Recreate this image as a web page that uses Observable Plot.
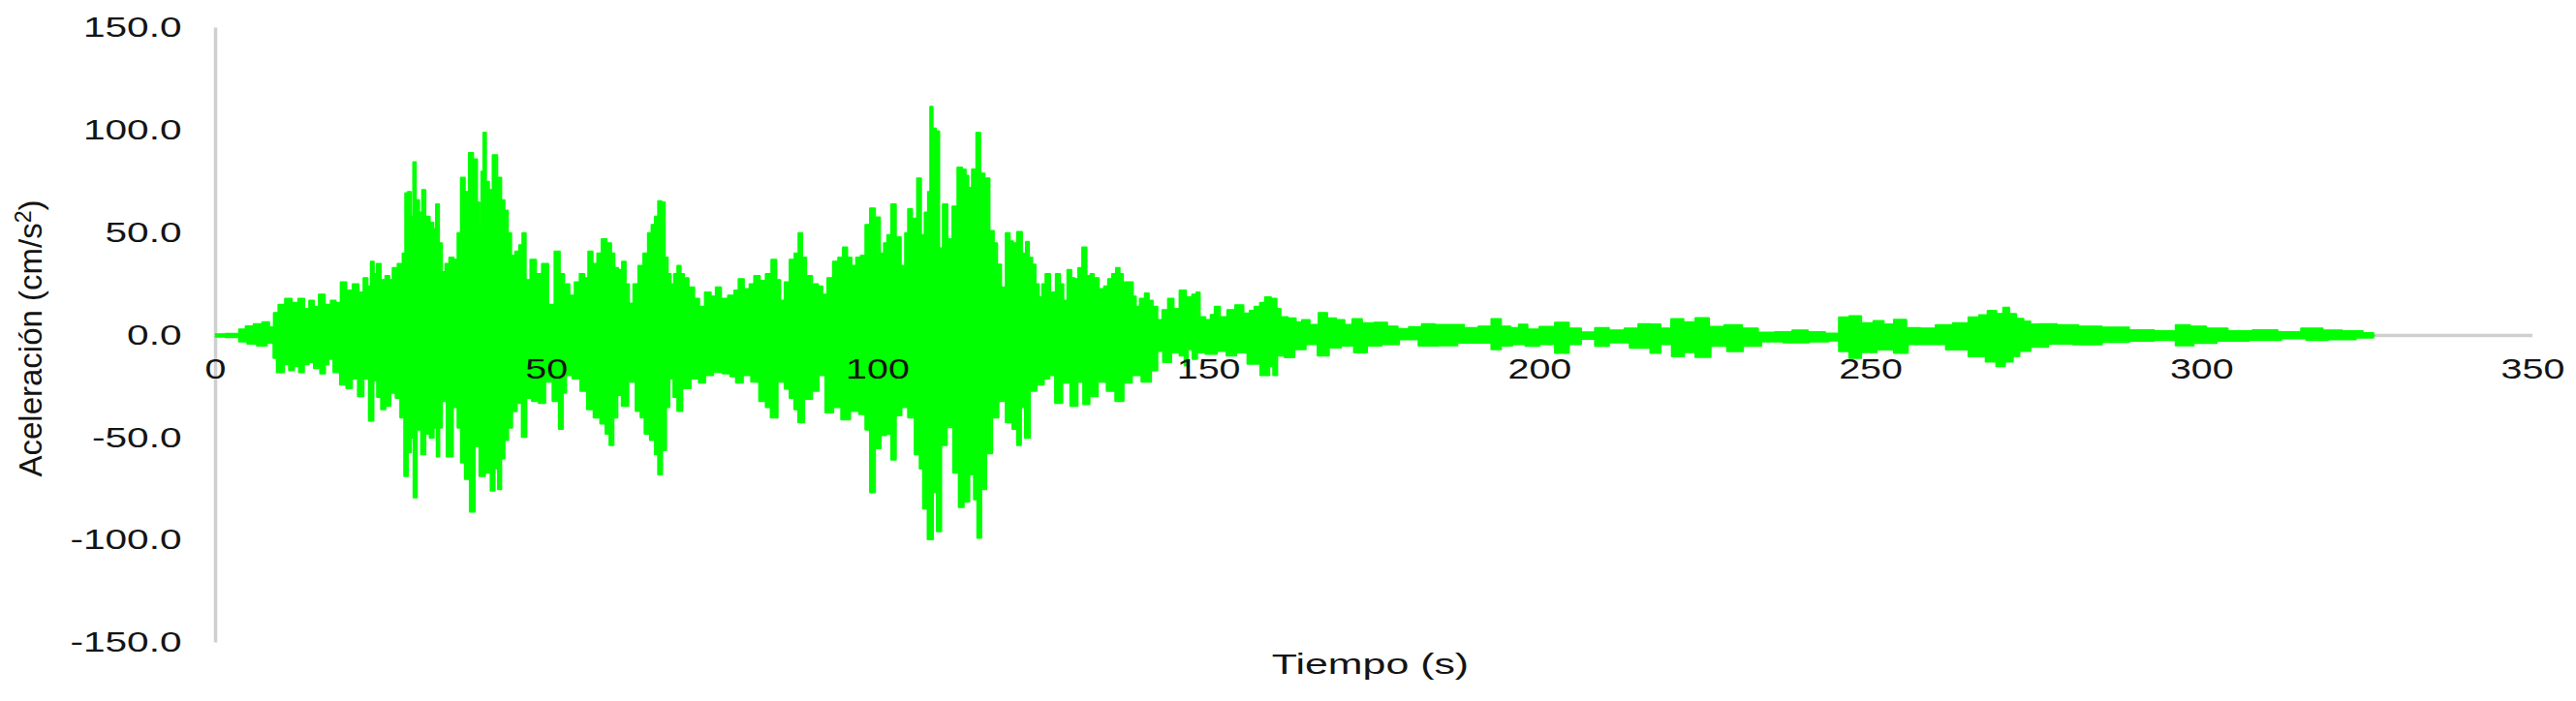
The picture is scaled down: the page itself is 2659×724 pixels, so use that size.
<!DOCTYPE html>
<html>
<head>
<meta charset="utf-8">
<script src="https://cdn.jsdelivr.net/npm/d3@7"></script>
<script src="https://cdn.jsdelivr.net/npm/@observablehq/plot@0.6"></script>
<style>
  html, body { margin: 0; padding: 0; background: #fff; overflow: hidden; }
</style>
</head>
<body>
<div id="chart"></div>
<script>
// Tick labels
const xTicks = [0, 50, 100, 150, 200, 250, 300, 350];
const yTicks = [150, 100, 50, 0, -50, -100, -150];
const xTitle = "Tiempo (s)";
const yTitle = "Aceleración (cm/s²)";

// Upper envelope of the accelerogram: [time (s), acceleration (cm/s²)]
const envolventeSup = [
[0,0.6],[3,0.8],[4.1,3],[5,4.5],[6.5,5.5],[7.6,6.5],[8.6,4],[9,11],[10,15],[11,18],[12,16],[13,18],[13.8,13],[14.5,17],[15.2,14],[16,20],[17,15],[17.8,17],[18.5,16],[19.3,26],[20.2,22],[21.2,25],[22,21],[22.7,28],[23.2,24],[23.7,36],[24.1,30],[24.6,35],[25.3,27],[26,29],[26.5,27],[27,33],[28,35],[28.5,40],[28.8,69.5],[29.3,70],[29.7,58],[30,84.6],[30.5,66],[31,60],[31.4,71],[32,58],[32.7,55],[33.1,52],[33.5,64],[34,45],[34.4,31],[35,35],[35.6,38],[36.3,37],[36.8,50],[37.3,77],[38,70],[38.5,89],[39.3,86],[39.7,65],[40,52],[40.3,80],[40.6,99],[41.1,75],[41.5,71],[42.2,88],[42.9,77],[43.4,66],[43.9,61],[44.4,50],[44.9,39],[45.6,41],[46.1,44],[46.6,50],[47.1,27],[48,37],[48.8,30],[49.8,35],[50.7,15],
[51.7,41],[52.3,30],[53,25],[53.9,19.5],[54.6,26],[55.4,30],[56,28],[56.6,41],[57.3,35],[58,40],[58.6,47],[59.5,45],[60,40],[60.5,33],[61.1,32],[61.7,36],[62.2,25],[62.7,15.6],[63.5,25],[64.2,34],[65,40],[65.6,50],[66.1,54],[66.6,58],[67.1,65.6],[67.6,65],[68.1,38],[68.5,30],[69,25],[69.5,30],[70,34],[70.5,30],[71,28],[71.9,23.5],[72.7,18],[73.4,14],[74.4,21],[75.2,19],[75.9,23.5],[76.8,18],[78,19.5],[78.7,22],[79.3,27.5],[80.3,22.7],[81,25],[81.7,29],[82.7,26.7],[83.5,30],[84.4,37],[85,27],[85.6,17],[86.3,26],[87.1,37],[87.8,40],[88.3,50],[88.9,38],[89.5,29],[90.7,25],[91.3,24],[92,20],[92.8,28],[93.7,36],[94.4,38],[95.1,43],[95.7,38],[96.4,34],[97.1,38],[97.8,39],[98.5,54],[99.2,62],[100,57.6],
[100.7,40],[101.2,45],[101.7,49],[102.4,64],[103.1,48],[103.9,34],[104.4,50],[104.8,61.6],[105.6,57],[106.3,76.7],[106.8,49],[107.4,60],[107.8,70],[108.1,111.6],[108.5,101],[109.1,99.7],[109.5,42.5],[110.2,64],[110.9,47],[111.7,63],[112.4,82],[113.1,81],[113.5,78],[113.9,72],[114.6,81],[115.2,99],[115.8,79],[116.5,76.7],[117.3,51],[117.8,45],[118.3,34.6],[119,23.5],[119.7,50],[120.2,46],[120.7,45],[121.4,50.5],[122.2,40],[122.6,45.7],[123.1,38],[123.6,34.6],[124.1,25],[124.6,18.7],[125.1,25],[125.6,30],[126.5,21],[127.3,30],[127.8,25],[128.3,17],[129,32],[129.5,28],[130,27.5],[130.6,33],[131.2,43],[131.9,29],[132.4,30],[132.9,28],[133.9,22.7],[134.5,24],[135.1,27.5],[135.7,30],[136.3,33],[136.8,30],[137.3,26],[138.3,26],[138.8,19],[139.2,14],[140,18],[140.7,20.6],[141.2,17],[141.9,14],[142.6,7.6],[143.4,12.4],[144.3,18],[145.1,13],[146.1,22],[147,18.7],[148,20],[148.3,21],[149,9],[150,7.6],
[150.6,10],[151.2,14],[152.2,9],[153.4,12.4],[154.6,14.8],[155.9,10.8],[156.5,12],[157.3,14],[158.2,16],[158.8,18.7],[160,18],[160.5,13],[161.2,9],[162.7,8.4],[163.6,6.5],[164.6,7.6],[165.9,5.2],[167.3,11],[168.5,8.4],[170,7.6],[171,5.2],[172.4,8],[173.9,6],[176.1,6.3],[177.8,4.4],[179.3,3.2],[181.2,4.1],[183.2,5.6],[185.1,5.2],[187.6,5.2],[189.5,3.7],[192,4.4],[193.4,8],[194.9,4.4],[196.3,3.7],[197.4,5.3],[198.9,3],[201,4.3],[203.6,6.3],[205.2,3.4],[207.3,1.5],[209.4,3.7],[211.5,2.5],[214.1,3.4],[215.7,5.6],[217.7,5.4],[218.8,3.4],[220.9,8],[222.5,6.5],[224.5,8.5],[226.6,4.3],[229.2,5.1],[231.9,3.4],[234,1.4],[237.1,1.7],[239.2,2.5],[241.8,1.7],[244.4,0.9],[246,8.8],[247.5,9.4],[249.6,6],
[251.2,7.1],[252.7,5.4],[254.3,7.7],[256.4,3.7],[258.5,3.4],[261.1,5.1],[263.7,6],[265.8,8.8],[266.9,9.9],[268.4,12],[269.5,10.5],[270.5,13.6],[271.3,10.5],[272.6,8.2],[273.5,6.9],[274.7,5.4],[276.2,5.6],[280,5.1],[282.7,4.4],[287.1,3.9],[290.9,2.6],[294.7,2.1],[297.4,5.1],[299,4.4],[302.3,3.4],[305.5,2.1],[309.8,2.6],[313.1,1.6],[316.9,3.4],[319.6,2.5],[322.8,2.1],[325.8,1.2],[326,0]
];

// Lower envelope of the accelerogram: [time (s), acceleration (cm/s²)]
const envolventeInf = [
[0,-0.6],[3,-0.8],[4.1,-3],[5.5,-4],[7,-5],[8.5,-3.5],[9,-11],[9.5,-18],[10,-18],[10.7,-14],[11.5,-17],[12.2,-15],[13,-18],[13.7,-14],[14.4,-13],[15.3,-16],[16.3,-18.6],[16.8,-14],[17.3,-11.4],[18.3,-18],[19.3,-24],[20.2,-25.7],[21,-21],[22,-29.7],[22.7,-21],[23.6,-41.6],[24.1,-22],[24.7,-30],[25.3,-36],[26,-34.4],[26.8,-28],[27.6,-30.5],[28.2,-40],[28.8,-68.6],[29.3,-57],[29.7,-50],[30.1,-79],[30.7,-46],[31.4,-58],[32,-48],[32.7,-50],[33.2,-45],[33.6,-59],[34,-45],[34.4,-32],[35.4,-59],[36.3,-35],[36.8,-45],[37.3,-62],[38,-70],[38.8,-86],[39.5,-54],[40.2,-68.6],[41.2,-67],[41.9,-75.7],[42.4,-65],[42.9,-75],[43.4,-60],[43.9,-51],[44.5,-45],[45.1,-37],[45.9,-33],[46.6,-49.5],[47.3,-30.5],[48.3,-32],[49.3,-33],[50.3,-22.5],
[51.5,-32],[52.2,-45.6],[52.7,-28],[53.2,-19.4],[54.6,-21],[55.6,-27],[56.6,-36],[57.6,-40],[58.6,-43],[59.2,-48],[59.8,-53.5],[60.4,-40],[61,-29],[61.7,-34.4],[63,-22.5],[63.9,-36.8],[64.5,-40],[65.1,-48],[66.1,-51],[66.6,-58],[67.1,-67.8],[67.8,-56],[68.3,-35],[68.8,-21],[69.5,-30],[70,-36.8],[71,-25.7],[72.5,-21],[73.5,-23],[74.4,-19.4],[75.9,-17.8],[77.3,-18.6],[78.2,-20],[79,-23],[80.3,-19.4],[81.5,-22.5],[82.7,-32],[83.5,-35],[84.2,-40],[85.6,-22.5],[86.3,-26],[87.1,-30.5],[87.7,-36],[88.3,-42.4],[89.5,-31],[90.7,-27],[91.5,-19.4],[92.7,-37.6],[93.9,-35],[95.1,-41],[96.6,-36.8],[97.8,-38.4],[98.5,-46],[99.2,-76.5],[100,-55],
[100.9,-48.7],[101.7,-48],[102.4,-60.6],[103.1,-39],[104.1,-35],[105.1,-40],[106.1,-58],[106.6,-65],[107.1,-84.4],[108,-99.5],[108.7,-76.5],[109.2,-95.6],[110,-53.5],[110.9,-44.8],[111.9,-67],[112.6,-83.7],[113.4,-81],[114.3,-67.8],[114.8,-80],[115.3,-98.7],[116,-75],[116.8,-57.5],[117.8,-40],[118.7,-32],[120,-42.4],[120.7,-45.6],[121.4,-53.5],[121.9,-35],[122.6,-50],[123.4,-27],[124.6,-24],[125.6,-21],[126.3,-19.4],[127.3,-33],[128.5,-23],[129.7,-34.4],[130.7,-22.5],[131.4,-33.6],[132.6,-29.7],[133.9,-22.5],[135.3,-27],[136.5,-32],[137.8,-23],[139,-19.4],[140.7,-22.5],[141.9,-17],[142.6,-7.5],[143.6,-13],[145.1,-8.3],[146.1,-9.8],[146.6,-14.6],[147.1,-6.7],[148,-11.4],[148.5,-8.3],[150.5,-9],
[152,-7.5],[153.4,-9.8],[154.9,-8.3],[156.8,-13.8],[158.8,-19.4],[159.5,-15],[160,-19.4],[160.7,-9.8],[162.2,-10.6],[163.7,-6.7],[165.6,-4.3],[167.3,-9.8],[169,-5.9],[171,-5],[172.9,-8.3],[174.9,-5],[177.3,-4.3],[180.2,-1.9],[183.2,-5],[186.1,-4.8],[189,-3.5],[192,-3.5],[193.4,-6.7],[194.9,-5],[196.8,-4.3],[198.9,-5.1],[201,-4.3],[203.6,-8.5],[205.2,-4.3],[207.3,-1.7],[209.4,-5.1],[211.5,-3.4],[215.7,-6],[217.7,-8.5],[218.8,-4.3],[221.1,-10.2],[222.5,-8.2],[224.5,-10.5],[227.1,-5.1],[229.5,-7.7],[231.9,-5.1],[235,-3],[238.6,-3.4],[242.8,-3],[244.4,-2.5],[246,-7.7],[247.5,-11],[249.6,-8.2],
[252.2,-6.8],[254.8,-8.5],[256.4,-4.3],[259.5,-4.3],[263.2,-6.8],[266.3,-10.2],[268.4,-12.8],[269.5,-15],[271,-12.8],[271.9,-10.2],[273,-7.6],[275.2,-5.5],[278.4,-4],[282.7,-4.4],[287.1,-3.2],[290.9,-2.6],[294.7,-2.3],[297.4,-4.9],[300.1,-3.7],[304.4,-2.6],[309.8,-2.3],[314.2,-1.4],[317.4,-2.3],[320.7,-1.9],[325.8,-1.1],[326,0]
];

const verde = "#00ff00";
const gris = "#cfcfcf";
const tinta = "#141414";
const font = "'Liberation Sans', Arial, Helvetica, sans-serif";

const chart = Plot.plot({
  width: 2659,
  height: 724,
  marginLeft: 222,
  marginRight: 45,
  marginTop: 28.5,
  marginBottom: 60.5,
  x: { domain: [0, 350], axis: null },
  y: { domain: [-150, 150], axis: null },
  style: { fontFamily: font, background: "#ffffff", color: tinta },
  marks: [
    Plot.ruleX([0], { y1: -150, y2: 150, stroke: gris, strokeWidth: 3.5 }),
    Plot.ruleY([0], { x1: 0, x2: 350, stroke: gris, strokeWidth: 3.5 }),
    Plot.areaY(envolventeSup, { x: d => d[0], y: d => d[1], fill: verde, curve: "step" }),
    Plot.areaY(envolventeInf, { x: d => d[0], y: d => d[1], fill: verde, curve: "step" }),
    Plot.line(envolventeSup, { x: d => d[0], y: d => d[1], stroke: verde, strokeWidth: 2, curve: "step" }),
    Plot.line(envolventeInf, { x: d => d[0], y: d => d[1], stroke: verde, strokeWidth: 2, curve: "step" }),
    // y tick labels
    Plot.text(yTicks, {
      x: 0, y: d => d, text: d => d.toFixed(1),
      textAnchor: "end", dx: -35, fontSize: 29, fill: tinta
    }),
    // x tick labels (drawn at the zero line)
    Plot.text(xTicks, {
      x: d => d, y: 0, text: d => String(d),
      textAnchor: "middle", dy: 35, fontSize: 29, fill: tinta
    }),
    // x title
    Plot.text([xTitle], {
      frameAnchor: "bottom", text: d => d, textAnchor: "middle", lineAnchor: "middle",
      dy: 22.5, dx: -4, fontSize: 30, fill: tinta
    }),
    // y title
    Plot.text([yTitle], {
      frameAnchor: "left", text: d => d, rotate: -90, textAnchor: "middle", lineAnchor: "middle",
      dx: -190, dy: 3, fontSize: 33, fill: tinta
    })
  ]
});

document.getElementById("chart").appendChild(chart);

// Horizontal stretch of the text, as in the reference picture
function stretch(group, sx) {
  if (!group) return;
  group.querySelectorAll("text").forEach(t => {
    const x = t.getAttribute("x");
    let tr = t.getAttribute("transform") || "";
    if (x !== null && !isNaN(+x)) {
      tr = `translate(${+x},0) ` + tr;
      t.removeAttribute("x");
    }
    t.setAttribute("transform", tr + ` scale(${sx},1)`);
  });
}
const textGroups = chart.querySelectorAll('g[aria-label="text"]');
stretch(textGroups[0], 1.4);
stretch(textGroups[1], 1.36);
stretch(textGroups[2], 1.43);

// Larger raised superscript in the y title
const yt = textGroups[3] && textGroups[3].querySelector("text");
if (yt && yt.textContent.endsWith("²)")) {
  const base = yt.textContent.slice(0, -2);
  yt.textContent = "";
  const NS = "http://www.w3.org/2000/svg";
  const t1 = document.createElementNS(NS, "tspan"); t1.textContent = base;
  const t2 = document.createElementNS(NS, "tspan"); t2.textContent = "2";
  t2.setAttribute("font-size", "23"); t2.setAttribute("dy", "-11");
  const t3 = document.createElementNS(NS, "tspan"); t3.textContent = ")";
  t3.setAttribute("dy", "11");
  yt.append(t1, t2, t3);
}
</script>
</body>
</html>
